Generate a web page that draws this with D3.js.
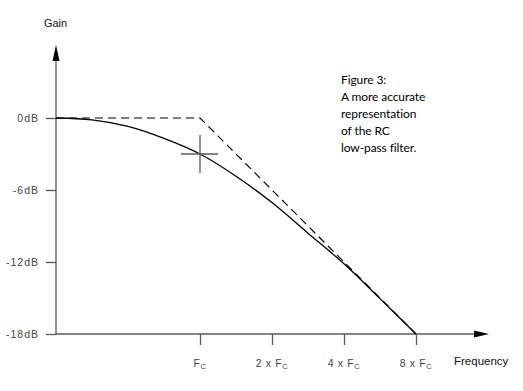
<!DOCTYPE html>
<html><head><meta charset="utf-8">
<script src="https://cdn.jsdelivr.net/npm/d3@7"></script>
<style>body{margin:0;background:#fff}svg{display:block}</style>
</head><body>
<script>
// Data
const yTicks = [0, -6, -12, -18];
const yTickLabels = ["0dB", "-6dB", "-12dB", "-18dB"];
const xTicks = [1, 2, 4, 8];
const xTickPrefix = ["", "2 x ", "4 x ", "8 x "];
const curveFreq = [0.25, 0.354, 0.5, 0.707, 1, 1.414, 2, 2.828, 4, 5.657, 8];
const curveGain = [0, -0.15, -0.7, -1.7, -3.0, -4.85, -7.05, -9.6, -12.15, -15.05, -18.0];
const asymFreq = [0.25, 1, 8];
const asymGain = [0, 0, -18];
const markFreq = 1, markGain = -3;
const noteLines = ["Figure 3:", "A more accurate", "representation", "of the RC", "low-pass filter."];

const W = 523, H = 391;
const svg = d3.select("body").append("svg").attr("width", W).attr("height", H);
const x = d3.scaleLog().base(2).domain([0.25, 8]).range([56, 416]);
const y = d3.scaleLinear().domain([-18, 0]).range([334, 118]);
const axisCol = "#5a5a5a";
const lblFont = "Liberation Sans, Arial, sans-serif";

// axes lines
svg.append("line").attr("x1", x(0.25)).attr("x2", 478).attr("y1", y(-18)).attr("y2", y(-18))
  .attr("stroke", axisCol).attr("stroke-width", 1.3);
svg.append("line").attr("x1", x(0.25)).attr("x2", x(0.25)).attr("y1", y(-18)).attr("y2", 58)
  .attr("stroke", axisCol).attr("stroke-width", 1.3);
// arrows
svg.append("path").attr("d", `M${x(0.25)},45 L${x(0.25)-3.5},61 L${x(0.25)+3.5},61 Z`).attr("fill", "#000");
svg.append("path").attr("d", `M489,${y(-18)} L474,${y(-18)-3.5} L474,${y(-18)+3.5} Z`).attr("fill", "#000");

// y axis ticks
const ya = d3.axisLeft(y).tickValues(yTicks).tickSize(10).tickPadding(7)
  .tickFormat((d, i) => yTickLabels[i]);
const gy = svg.append("g").attr("transform", `translate(${x(0.25)},0)`).call(ya);
gy.select(".domain").remove();
gy.selectAll("line").attr("stroke", axisCol).attr("stroke-width", 1.3);
gy.selectAll("text").attr("font-family", lblFont).attr("font-size", 10.5)
  .attr("letter-spacing", 1).attr("fill", "#444");

// x axis ticks
const xa = d3.axisBottom(x).tickValues(xTicks).tickSize(11).tickPadding(0).tickFormat("");
const gx = svg.append("g").attr("transform", `translate(0,${y(-18)})`).call(xa);
gx.select(".domain").remove();
gx.selectAll("line").attr("stroke", axisCol).attr("stroke-width", 1.3);
xTicks.forEach((f, i) => {
  const t = svg.append("text").attr("x", x(f)).attr("y", 366.5).attr("text-anchor", "middle")
    .attr("font-family", lblFont).attr("font-size", 10.5).attr("letter-spacing", 0.6).attr("fill", "#444");
  t.append("tspan").text(xTickPrefix[i] + "F");
  t.append("tspan").attr("font-size", 7.5).attr("dy", 2.5).text("C");
});

// axis titles
svg.append("text").attr("x", 55.5).attr("y", 27).attr("text-anchor", "middle")
  .attr("font-family", lblFont).attr("font-size", 11).attr("fill", "#111").text("Gain");
svg.append("text").attr("x", 454).attr("y", 365)
  .attr("font-family", lblFont).attr("font-size", 11.5).attr("fill", "#111").text("Frequency");

// asymptote
const line = d3.line().x(d => x(d[0])).y(d => y(d[1]));
svg.append("path").attr("d", line(asymFreq.map((f, i) => [f, asymGain[i]])))
  .attr("fill", "none").attr("stroke", "#000").attr("stroke-width", 1.2).attr("stroke-dasharray", "8,5");

// curve
const cline = d3.line().x(d => x(d[0])).y(d => y(d[1])).curve(d3.curveCatmullRom);
svg.append("path").attr("d", cline(curveFreq.map((f, i) => [f, curveGain[i]])))
  .attr("fill", "none").attr("stroke", "#000").attr("stroke-width", 1.3);

// crosshair at -3dB
const mx = x(markFreq), my = y(markGain);
svg.append("line").attr("x1", mx - 19).attr("x2", mx + 18).attr("y1", my).attr("y2", my).attr("stroke", axisCol).attr("stroke-width", 1.3);
svg.append("line").attr("x1", mx).attr("x2", mx).attr("y1", my - 19).attr("y2", my + 19).attr("stroke", axisCol).attr("stroke-width", 1.3);

// note
const note = svg.append("text").attr("font-family", "Lato, Open Sans, sans-serif").attr("font-size", 12)
  .attr("letter-spacing", -0.1).attr("fill", "#000");
noteLines.forEach((s, i) => note.append("tspan").attr("x", 341).attr("y", 84 + i * 17).text(s));
</script>
</body></html>
